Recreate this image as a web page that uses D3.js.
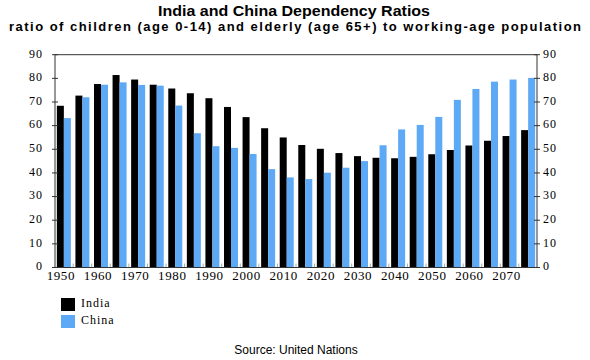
<!DOCTYPE html>
<html>
<head>
<meta charset="utf-8">
<script src="https://cdn.jsdelivr.net/npm/d3@7"></script>
<style>
  html, body { margin: 0; padding: 0; background: #fff; }
  svg { display: block; }
</style>
</head>
<body>
<svg id="chart" width="590" height="360"></svg>
<script>
const years = [1950, 1955, 1960, 1965, 1970, 1975, 1980, 1985, 1990, 1995, 2000, 2005, 2010,
               2015, 2020, 2025, 2030, 2035, 2040, 2045, 2050, 2055, 2060, 2065, 2070, 2075];
const india = [68.4, 72.7, 77.6, 81.4, 79.5, 77.3, 75.7, 73.7, 71.6, 67.9, 63.6, 58.9, 55.0,
               51.8, 50.2, 48.4, 47.1, 46.4, 46.2, 46.8, 47.9, 49.7, 51.6, 53.6, 55.6, 58.1];
const china = [63.2, 72.0, 77.3, 78.3, 77.2, 76.9, 68.5, 56.8, 51.3, 50.6, 48.0, 41.6, 38.1,
               37.4, 40.1, 42.2, 45.0, 51.7, 58.4, 60.3, 63.7, 70.9, 75.5, 78.6, 79.5, 80.2];
const seriesNames = ["India", "China"];
const seriesColors = ["#000000", "#5da9f5"];
const xTickLabels = ["1950", "1960", "1970", "1980", "1990", "2000", "2010", "2020", "2030",
                     "2040", "2050", "2060", "2070"];
const yTicks = [0, 10, 20, 30, 40, 50, 60, 70, 80, 90];
const titleText = "India and China Dependency Ratios";
const subtitleText = "ratio of children (age 0-14) and elderly (age 65+) to working-age population";
const sourceText = "Source: United Nations";

(function () {
const svg = d3.select("#chart");
const pLeft = 55, pRight = 537, pTop = 54.7, pBottom = 267.5;

const x = d3.scaleBand().domain(years).range([pLeft, pRight]).paddingInner(0.246).paddingOuter(0.1);
const xs = d3.scaleBand().domain(seriesNames).range([0, x.bandwidth()]);
const y = d3.scaleLinear().domain([0, 90]).range([pBottom, pTop]);

const serif = "'Liberation Serif', 'Times New Roman', serif";
const sans = "'Liberation Sans', Arial, sans-serif";

// Titles
svg.append("text").attr("x", 294).attr("y", 16).attr("text-anchor", "middle")
  .attr("font-family", sans).attr("font-weight", "bold").attr("font-size", 15)
  .attr("textLength", 272).attr("lengthAdjust", "spacingAndGlyphs")
  .text(titleText);
svg.append("text").attr("x", 295).attr("y", 31).attr("text-anchor", "middle")
  .attr("font-family", sans).attr("font-weight", "bold").attr("font-size", 13)
  .attr("textLength", 572).attr("lengthAdjust", "spacing")
  .text(subtitleText);

// Bars
const data = years.map((yr, i) => ({ year: yr, values: [india[i], china[i]] }));
const groups = svg.append("g").selectAll("g").data(data).join("g")
  .attr("transform", d => `translate(${x(d.year)},0)`);
groups.selectAll("rect").data(d => d.values.map((v, j) => ({ v, name: seriesNames[j], c: seriesColors[j] })))
  .join("rect")
  .attr("x", d => xs(d.name))
  .attr("width", xs.bandwidth())
  .attr("y", d => y(d.v))
  .attr("height", d => y(0) - y(d.v))
  .attr("fill", d => d.c);

// bottom small ticks at group boundaries
const half = x.step() * x.paddingInner() / 2;
svg.append("g").selectAll("line").data(years.slice(1)).join("line")
  .attr("x1", d => x(d) - half).attr("x2", d => x(d) - half)
  .attr("y1", pBottom).attr("y2", pBottom - 4)
  .attr("stroke", "#aaa").attr("stroke-width", 1);

// Frame
svg.append("rect").attr("x", pLeft).attr("y", pTop)
  .attr("width", pRight - pLeft).attr("height", pBottom - pTop)
  .attr("fill", "none").attr("stroke", "#333").attr("stroke-width", 1);

// Y axes
const yAxisL = svg.append("g");
yAxisL.selectAll("line").data(yTicks).join("line")
  .attr("x1", pLeft - 3).attr("x2", pLeft + 3)
  .attr("y1", d => y(d)).attr("y2", d => y(d)).attr("stroke", "#333");
yAxisL.selectAll("text").data(yTicks).join("text")
  .attr("x", 43).attr("y", d => y(d) - 1).attr("dy", "0.32em").attr("text-anchor", "end")
  .attr("font-family", serif).attr("font-size", 12).attr("letter-spacing", 1)
  .text(d => d);
const yAxisR = svg.append("g");
yAxisR.selectAll("line").data(yTicks).join("line")
  .attr("x1", pRight - 3).attr("x2", pRight + 3)
  .attr("y1", d => y(d)).attr("y2", d => y(d)).attr("stroke", "#333");
yAxisR.selectAll("text").data(yTicks).join("text")
  .attr("x", 543).attr("y", d => y(d) - 1).attr("dy", "0.32em").attr("text-anchor", "start")
  .attr("font-family", serif).attr("font-size", 12).attr("letter-spacing", 1)
  .text(d => d);

// X labels
svg.append("g").selectAll("text").data(xTickLabels).join("text")
  .attr("x", d => x(+d) + x.bandwidth() / 2 - 3)
  .attr("y", 280).attr("text-anchor", "middle")
  .attr("font-family", serif).attr("font-size", 13).attr("letter-spacing", 0.6)
  .text(d => d);

// Legend
const legend = svg.append("g").selectAll("g").data(seriesNames).join("g")
  .attr("transform", (d, i) => `translate(61,${298 + i * 17})`);
legend.append("rect").attr("width", 14).attr("height", 13)
  .attr("fill", (d, i) => seriesColors[i]);
legend.append("text").attr("x", 20).attr("y", 9)
  .attr("font-family", serif).attr("font-size", 12).attr("letter-spacing", 1)
  .text(d => d);

// Source
svg.append("text").attr("x", 296).attr("y", 354).attr("text-anchor", "middle")
  .attr("font-family", sans).attr("font-size", 12)
  .text(sourceText);
})();
</script>
</body>
</html>
